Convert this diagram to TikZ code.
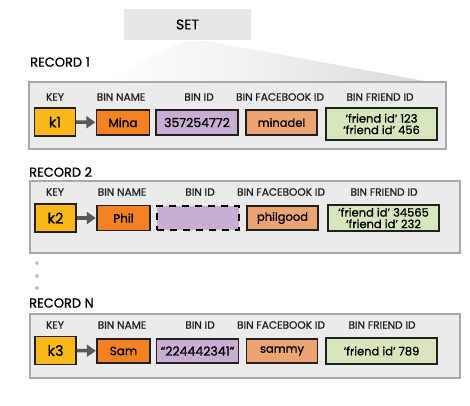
\documentclass[tikz,border=0pt]{standalone}
\usepackage{fontspec}
\setmainfont{Poppins}
\newfontfamily\medfont{Poppins}[FakeBold=0.9]
\usetikzlibrary{arrows.meta}
\definecolor{keyyellow}{HTML}{FBB919}
\definecolor{nameorange}{HTML}{F58220}
\definecolor{idlilac}{HTML}{C8AED3}
\definecolor{fbsalmon}{HTML}{EDA473}
\definecolor{friendgreen}{HTML}{D6E7BD}
\definecolor{framegray}{HTML}{A7A9AC}
\definecolor{panelgray}{HTML}{EAEBEA}
\definecolor{setgray}{HTML}{E6E7E8}
\definecolor{arrowgray}{HTML}{58595B}
\definecolor{inkdark}{HTML}{231F20}

\begin{document}
\begin{tikzpicture}[x=1pt,y=-1pt,
  bin/.style={draw=inkdark,line width=1.4pt,inner sep=0pt,align=center,
    font=\medfont\fontsize{11.5}{11.5}\selectfont},
  keybox/.style={bin,fill=keyyellow,minimum width=41pt,minimum height=28pt,
    font=\medfont\fontsize{14.5}{14}\selectfont},
  namebox/.style={bin,fill=nameorange,minimum width=53pt,minimum height=25pt,
    font=\medfont\fontsize{12}{12}\selectfont},
  idbox/.style={bin,fill=idlilac,minimum width=82pt,minimum height=25pt,
    font=\medfont\fontsize{12.5}{12}\selectfont},
  fbbox/.style={bin,fill=fbsalmon,minimum width=71pt,minimum height=25pt},
  friendbox/.style={bin,fill=friendgreen,minimum width=111pt,minimum height=26pt},
  colhead/.style={text=inkdark,inner sep=0pt,font=\medfont\fontsize{10.6}{10}\selectfont},
  reclabel/.style={anchor=west,inner sep=0pt,font=\medfont\fontsize{13}{13}\selectfont},
  recframe/.style={draw=framegray,fill=panelgray,line width=1.5pt},
  keyarrow/.style={-{Triangle[length=9pt,width=12pt]},line width=3.5pt,arrowgray,shorten >=0.5pt}
]
\useasboundingbox (0,0) rectangle (470,405);

% set and its fan
\shade[left color=white,right color=black!15,middle color=black!6] (185,41) -- (207,41) -- (430,82) -- (100,82) -- cycle;
\node[fill=setgray,minimum width=127pt,minimum height=31pt,inner sep=0pt,
  font=\medfont\fontsize{14}{14}\selectfont] (set) at (187.5,24.5) {SET};

% record 1
\node[reclabel] (lab1) at (30,62) {RECORD 1};
\draw[recframe] (29,82) rectangle (446,149);
\node[colhead] (h1key) at (55,97) {KEY};
\node[colhead] (h1name) at (121,97) {BIN NAME};
\node[colhead] (h1id) at (199,97) {BIN ID};
\node[colhead] (h1fb) at (280,97) {BIN FACEBOOK ID};
\node[colhead] (h1fr) at (380,97) {BIN FRIEND ID};
\node[keybox] (k1) at (55,122) {k1};
\node[namebox] (name1) at (123,122.5) {Mina};
\node[idbox] (id1) at (197,122.5) {357254772};
\node[fbbox] (fb1) at (281.5,122.5) {minadel};
\node[friendbox,minimum height=32pt] (fr1) at (381.5,124) {‘friend id’ 123\\‘friend id’ 456};
\draw[keyarrow] (k1) -- (name1);

% record 2
\node[reclabel] (lab2) at (29,172) {RECORD 2};
\draw[recframe] (30,181) rectangle (460,253);
\node[colhead] (h2key) at (55,192) {KEY};
\node[colhead] (h2name) at (122,192) {BIN NAME};
\node[colhead] (h2id) at (200,192) {BIN ID};
\node[colhead] (h2fb) at (281,192) {BIN FACEBOOK ID};
\node[colhead] (h2fr) at (384,192) {BIN FRIEND ID};
\node[keybox] (k2) at (55.5,218) {k2};
\node[namebox] (name2) at (123.5,218) {Phil};
\node[idbox,draw=black,line width=2.5pt,dash pattern=on 7pt off 6pt,minimum height=24pt] (id2) at (198,218) {};
\node[fbbox,minimum height=24pt] (fb2) at (282.5,218) {philgood};
\node[friendbox] (fr2) at (383.5,218) {‘friend id’ 34565\\‘friend id’ 232};
\draw[keyarrow] (k2) -- (name2);

% gap
\foreach \y in {263,276,288}
  \fill[black!22] (37,\y) circle (2pt);

% record n
\node[reclabel] (labn) at (29,303) {RECORD N};
\draw[recframe] (30,314) rectangle (460,378);
\node[colhead] (hnkey) at (55,325) {KEY};
\node[colhead] (hnname) at (122,325) {BIN NAME};
\node[colhead] (hnid) at (200,325) {BIN ID};
\node[colhead] (hnfb) at (281,325) {BIN FACEBOOK ID};
\node[colhead] (hnfr) at (382,325) {BIN FRIEND ID};
\node[keybox] (k3) at (55.5,350.5) {k3};
\node[namebox,minimum height=24pt] (name3) at (123.5,351) {Sam};
\node[idbox,minimum height=24pt] (id3) at (197.5,351) {“224442341”};
\node[fbbox,minimum height=24pt] (fb3) at (282,351) {sammy};
\node[friendbox] (fr3) at (381.5,351) {‘friend id’ 789};
\draw[keyarrow] (k3) -- (name3);
\end{tikzpicture}
\end{document}
